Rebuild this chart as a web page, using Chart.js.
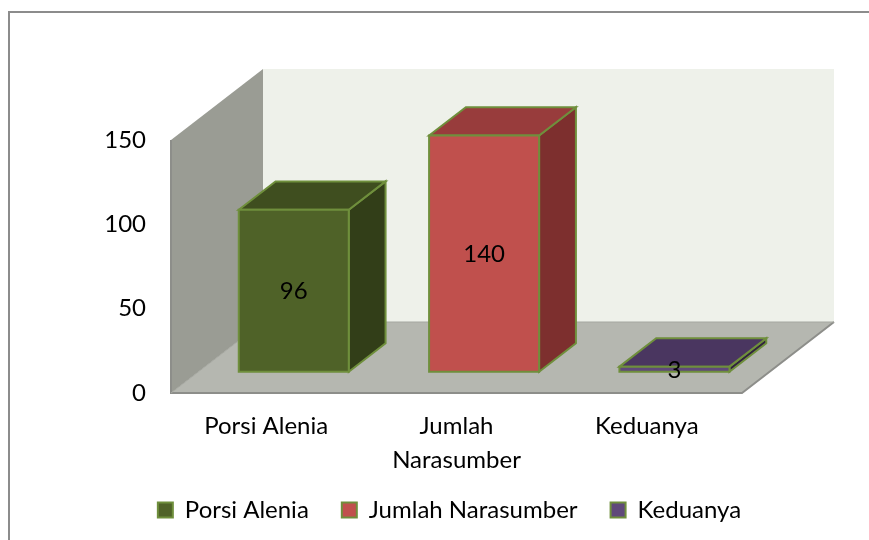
<!DOCTYPE html>
<html>
<head>
<meta charset="utf-8">
<script src="https://cdn.jsdelivr.net/npm/chart.js@4"></script>
<style>
  body { margin: 0; background: #fff; }
  #wrap { width: 869px; height: 540px; }
</style>
</head>
<body>
<div id="wrap"><canvas id="myChart" width="869" height="540"></canvas></div>
<script>
var categories = ["Porsi Alenia", "Jumlah Narasumber", "Keduanya"]
var tickLabels = [["Porsi Alenia"], ["Jumlah", "Narasumber"], ["Keduanya"]]
var values = [96, 140, 3]
var frontColors = ["#4f6228", "#c0504d", "#5f497a"]
var topColors = ["#3f4e1f", "#983c3c", "#4a3660"]
var sideColors = ["#323e18", "#7d2f2e", "#31233f"]
var edgeColor = "#6f8f3c"

var fontName = "Lato, 'Open Sans', sans-serif"
var textSize = 24

// how deep the fake 3d floor is, in pixels
var depthX = 92
var depthY = 71
var barStart = 0.3
var barEnd = 0.7

function poly(ctx, pts, fill, stroke, lw) {
  ctx.beginPath()
  ctx.moveTo(pts[0][0], pts[0][1])
  for (var i = 1; i < pts.length; i++) ctx.lineTo(pts[i][0], pts[i][1])
  ctx.closePath()
  if (fill) { ctx.fillStyle = fill; ctx.fill() }
  if (stroke) { ctx.strokeStyle = stroke; ctx.lineWidth = lw || 1; ctx.stroke() }
}

var frame3d = {
  id: "frame3d",
  afterLayout: function (chart) {
    // legend sits a bit right of the canvas middle in the original,
    // and overlaps the tall box the x axis needs for its two line label
    chart.legend.left = 30
    chart.legend.right = chart.width
    chart.legend.width = chart.width - 30
    chart.legend.top -= 8
    chart.legend.bottom -= 8
  },
  beforeDraw: function (chart) {
    // only top and left of the frame are in the picture
    var ctx = chart.ctx
    ctx.save()
    ctx.strokeStyle = "#8c8c8c"
    ctx.lineWidth = 2
    ctx.beginPath()
    ctx.moveTo(9, 540)
    ctx.lineTo(9, 12)
    ctx.lineTo(869, 12)
    ctx.stroke()
    ctx.restore()
  },
  beforeDatasetsDraw: function (chart) {
    var ctx = chart.ctx
    var a = chart.chartArea
    var l = a.left, r = a.right, t = a.top, b = a.bottom
    ctx.save()
    // back wall
    poly(ctx, [[l + depthX, t - depthY], [r + depthX, t - depthY], [r + depthX, b - depthY], [l + depthX, b - depthY]], "#eef1ea")
    // left wall
    poly(ctx, [[l, t], [l + depthX, t - depthY], [l + depthX, b - depthY], [l, b]], "#9a9c94")
    // floor
    poly(ctx, [[l, b], [l + depthX, b - depthY], [r + depthX, b - depthY], [r, b]], "#b5b7b0")
    ctx.strokeStyle = "#8d8e8a"
    ctx.lineWidth = 2
    ctx.beginPath()
    ctx.moveTo(l, t)
    ctx.lineTo(l, b)
    ctx.lineTo(r, b)
    ctx.lineTo(r + depthX, b - depthY)
    ctx.stroke()
    ctx.lineWidth = 1
    ctx.strokeStyle = "#a5a7a0"
    ctx.beginPath()
    ctx.moveTo(l, b)
    ctx.lineTo(l + depthX, b - depthY)
    ctx.lineTo(r + depthX, b - depthY)
    ctx.stroke()

    // bars, from the positions the bar controller worked out
    var meta = chart.getDatasetMeta(0)
    meta.data.forEach(function (el, i) {
      var x0 = el.x - el.width / 2 + depthX * barStart
      var x1 = el.x + el.width / 2 + depthX * barStart
      var yt = el.y - depthY * barStart
      var yb = el.base - depthY * barStart
      var dx = depthX * (barEnd - barStart)
      var dy = depthY * (barEnd - barStart)
      poly(ctx, [[x1, yt], [x1 + dx, yt - dy], [x1 + dx, yb - dy], [x1, yb]], sideColors[i], edgeColor, 2)
      poly(ctx, [[x0, yt], [x0 + dx, yt - dy], [x1 + dx, yt - dy], [x1, yt]], topColors[i], edgeColor, 2)
      poly(ctx, [[x0, yt], [x1, yt], [x1, yb], [x0, yb]], frontColors[i], edgeColor, 2)
    })
    // value labels in the middle of the front face
    ctx.fillStyle = "#000"
    ctx.font = textSize + "px " + fontName
    ctx.textAlign = "center"
    ctx.textBaseline = "middle"
    meta.data.forEach(function (el, i) {
      var cx = el.x + depthX * barStart
      var cy = (el.y + el.base) / 2 - depthY * barStart
      ctx.fillText(String(values[i]), cx, cy + 1)
    })
    ctx.restore()
    return false
  }
}

var data = {
  labels: tickLabels,
  datasets: [{
    label: "Jumlah",
    data: values,
    backgroundColor: frontColors,
    borderColor: edgeColor,
    categoryPercentage: 1,
    barPercentage: 0.578
  }]
}

var config = {
  type: "bar",
  data: data,
  plugins: [frame3d],
  options: {
    responsive: false,
    animation: false,
    layout: { padding: { left: 0, right: 127, top: 140, bottom: 0 } },
    plugins: {
      tooltip: { enabled: false },
      legend: {
        position: "bottom",
        labels: {
          boxWidth: 15,
          boxHeight: 15,
          padding: 33,
          color: "#000",
          font: { family: fontName, size: textSize },
          generateLabels: function () {
            return categories.map(function (c, i) {
              return { text: c, fillStyle: frontColors[i], strokeStyle: edgeColor, lineWidth: 2, index: i }
            })
          }
        }
      }
    },
    scales: {
      x: {
        grid: { display: false },
        border: { display: false },
        afterFit: function (s) { s.height = 80 },
        ticks: {
          maxRotation: 0,
          color: "#000",
          padding: 8,
          font: { family: fontName, size: textSize, lineHeight: 1.42 }
        }
      },
      y: {
        min: 0,
        max: 150,
        grid: { display: false, drawTicks: false },
        border: { display: false },
        afterFit: function (s) { s.width = 171 },
        ticks: {
          stepSize: 50,
          color: "#000",
          padding: 25,
          font: { family: fontName, size: textSize }
        }
      }
    }
  }
}

var myChart = new Chart(document.getElementById("myChart"), config)
</script>
</body>
</html>
